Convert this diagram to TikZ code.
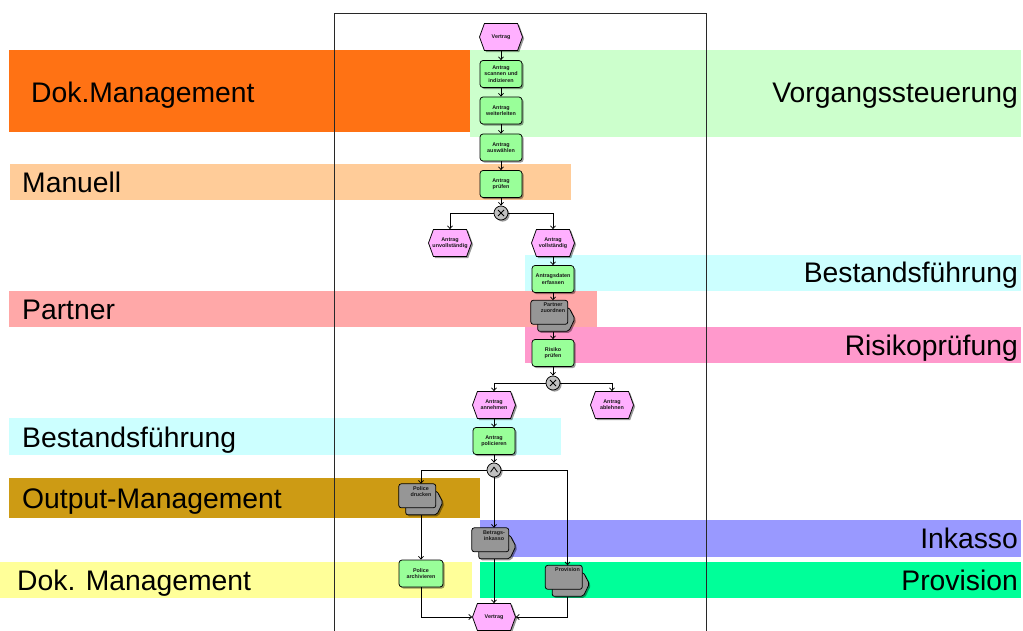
\documentclass[tikz,border=0pt]{standalone}
\usepackage{fontspec}
\setmainfont{Liberation Sans}
\usetikzlibrary{shapes.symbols,shadows,arrows.meta,calc}

% band colours
\definecolor{bOrange}{RGB}{255,114,20}
\definecolor{bMint}{RGB}{204,255,204}
\definecolor{bPeach}{RGB}{255,204,153}
\definecolor{bCyan}{RGB}{204,255,255}
\definecolor{bSalmon}{RGB}{255,168,168}
\definecolor{bPink}{RGB}{255,153,204}
\definecolor{bGold}{RGB}{205,155,20}
\definecolor{bLavender}{RGB}{153,153,255}
\definecolor{bYellow}{RGB}{255,255,153}
\definecolor{bSpring}{RGB}{0,255,153}
% process element colours
\definecolor{cFunc}{RGB}{153,255,153}
\definecolor{cEvent}{RGB}{255,176,255}
\definecolor{cIfc}{RGB}{150,150,150}
\definecolor{cConn}{RGB}{192,192,192}
\definecolor{cTxt}{RGB}{25,25,25}
\definecolor{cFrame}{RGB}{40,40,40}

\newcommand\smallnodefont{\fontsize{5.4}{6.2}\selectfont\bfseries}
\newcommand\bandfont{\fontsize{28.3}{30}\selectfont}

% process interface: a rounded box stacked on a chevron-shaped back plate
% #1 name, #2 centre, #3 text
\newcommand\ifacenode[3]{%
  \node[ifc] (#1) at (#2) {};
  \path[ifcback] ($(#1.north west)+(7,7)$) -- ($(#1.north west)+(38,7)$)
     -- ($(#1.north west)+(44,18.5)$) -- ($(#1.north west)+(38,31)$)
     -- ($(#1.north west)+(7,31)$) -- cycle;
  \path[ifcfront] (#1.north west) rectangle ($(#1.north west)+(37,24)$);
  \node[ifctext] (#1-t) at ($(#1.north)+(0,2.5)$) {#3};
}

\begin{document}
\begin{tikzpicture}[x=1pt,y=-1pt,
  bandlbl/.style={font=\bandfont, text=black, inner sep=0pt},
  frame/.style={draw=cFrame, line width=1pt},
  shade/.style={drop shadow={shadow xshift=1.6pt, shadow yshift=-1.6pt, fill=black, opacity=0.4}},
  func/.style={draw=black, line width=0.75pt, fill=cFunc, rounded corners=3pt,
    minimum width=42pt, minimum height=27pt, inner sep=0.5pt, align=center,
    font=\smallnodefont, text=cTxt, shade},
  event/.style={signal, signal to=west and east, signal pointer angle=140,
    draw=black, line width=0.75pt, fill=cEvent, minimum width=43pt,
    minimum height=27pt, inner sep=0pt, shade},
  evtext/.style={font=\smallnodefont, text=cTxt, align=center, inner sep=0pt},
  conn/.style={circle, draw=black, line width=0.75pt, fill=cConn,
    minimum size=14pt, inner sep=0pt, shade},
  xorsym/.style={path picture={
    \draw[line width=0.8pt] ($(path picture bounding box.center)+(-3,-3)$) -- ++(6,6);
    \draw[line width=0.8pt] ($(path picture bounding box.center)+(-3,3)$) -- ++(6,-6);}},
  andsym/.style={path picture={
    \draw[line width=0.8pt] ($(path picture bounding box.center)+(-3.5,2.2)$)
       -- ++(3.5,-5) -- ++(3.5,5);}},
  ifc/.style={minimum width=44pt, minimum height=31pt, inner sep=0pt},
  ifcback/.style={draw=black, line width=0.75pt, fill=cIfc, rounded corners=2pt, shade},
  ifcfront/.style={draw=black, line width=0.75pt, fill=cIfc, rounded corners=2.5pt},
  ifctext/.style={anchor=north, font=\smallnodefont, text=cTxt, align=center, inner sep=0pt},
  flow/.style={line width=0.75pt, -{Straight Barb[length=2.8pt,width=5pt]}}
]
\useasboundingbox (0,0) rectangle (1023,631);

% ---- organisational bands ----
\fill[bOrange]   (9,50)   rectangle (470,132);
\fill[bMint]     (470,50) rectangle (1021,137);
\fill[bPeach]    (10,164) rectangle (571,200);
\fill[bCyan]     (525,255) rectangle (1021,291);
\fill[bSalmon]   (9,291)  rectangle (597,327);
\fill[bPink]     (525,327) rectangle (1021,363);
\fill[bCyan]     (9,418)  rectangle (561,455);
\fill[bGold]     (9,478)  rectangle (480,518);
\fill[bLavender] (480,520) rectangle (1021,557);
\fill[bYellow]   (0,562)  rectangle (472,598);
\fill[bSpring]   (480,562) rectangle (1021,598);

\node[bandlbl, anchor=base west] (lDok)  at (31,103)   {Dok.Management};
\node[bandlbl, anchor=base east] (lVorg) at (1018,103) {Vorgangssteuerung};
\node[bandlbl, anchor=base west] (lMan)  at (22,193)   {Manuell};
\node[bandlbl, anchor=base east] (lBest) at (1018,283) {Bestandsführung};
\node[bandlbl, anchor=base west] (lPart) at (22,319)   {Partner};
\node[bandlbl, anchor=base east] (lRisk) at (1018,355) {Risikoprüfung};
\node[bandlbl, anchor=base west] (lBes2) at (22,447)   {Bestandsführung};
\node[bandlbl, anchor=base west] (lOut)  at (22,508)   {Output-Management};
\node[bandlbl, anchor=base east] (lInk)  at (1018,548) {Inkasso};
\node[bandlbl, anchor=base west] (lDok2) at (17,590)   {Dok. Management};
\node[bandlbl, anchor=base east] (lProv) at (1018,590) {Provision};

% ---- process frame ----
\draw[frame] (334,631) -- (334,14) -- (706,14) -- (706,631);

% ---- process elements ----
\node[event, label={[evtext]center:Vertrag}] (v1) at (501,37) {};
\node[func] (f1) at (501,74)    {Antrag\\scannen und\\indizieren};
\node[func] (f2) at (501,110.5) {Antrag\\weiterleiten};
\node[func] (f3) at (501,147.5) {Antrag\\auswählen};
\node[func] (f4) at (501,184)   {Antrag\\prüfen};
\node[conn, xorsym] (x1) at (501,213) {};
\node[event, label={[evtext]center:{Antrag\\unvollständig}}] (e2) at (450,243) {};
\node[event, label={[evtext]center:{Antrag\\vollständig}}]   (e3) at (553,243) {};
\node[func] (f5) at (553,279) {Antragsdaten\\erfassen};
\ifacenode{p1}{553,316}{Partner\\zuordnen}
\node[func] (f6) at (553,353) {Risiko\\prüfen};
\node[conn, xorsym] (x2) at (553,383) {};
\node[event, label={[evtext]center:{Antrag\\annehmen}}] (e4) at (494,405) {};
\node[event, label={[evtext]center:{Antrag\\ablehnen}}] (e5) at (612,405) {};
\node[func] (f7) at (494,441) {Antrag\\policieren};
\node[conn, andsym] (a1) at (494,470) {};
\ifacenode{p2}{421,499.5}{Police\\drucken}
\ifacenode{p3}{494,543.5}{Betrags-\\inkasso}
\node[func, minimum width=44pt] (f8) at (421,573.5) {Police\\archivieren};
\ifacenode{p4}{567.5,581}{Provision}
\node[event, label={[evtext]center:Vertrag}] (v2) at (494,617) {};

% ---- control flow ----
\draw[flow] (v1.south) -- (f1.north);
\draw[flow] (f1.south) -- (f2.north);
\draw[flow] (f2.south) -- (f3.north);
\draw[flow] (f3.south) -- (f4.north);
\draw[flow] (f4.south) -- (x1.north);
\draw[flow] (x1.west) -| (e2.north);
\draw[flow] (x1.east) -| (e3.north);
\draw[flow] (e3.south) -- (f5.north);
\draw[flow] (f5.south) -- (p1.north);
\draw[flow] (p1.south) -- (f6.north);
\draw[flow] (f6.south) -- (x2.north);
\draw[flow] (x2.west) -| (e4.north);
\draw[flow] (x2.east) -| (e5.north);
\draw[flow] (e4.south) -- (f7.north);
\draw[flow] (f7.south) -- (a1.north);
\draw[flow] (a1.west) -| (p2.north);
\draw[flow] (a1.south) -- (p3.north);
\draw[flow] (a1.east) -| (p4.north);
\draw[flow] (p2.south) -- (f8.north);
\draw[flow] (f8.south) |- (v2.west);
\draw[flow] (p3.south) -- (v2.north);
\draw[flow] (p4.south) |- (v2.east);
\end{tikzpicture}
\end{document}
